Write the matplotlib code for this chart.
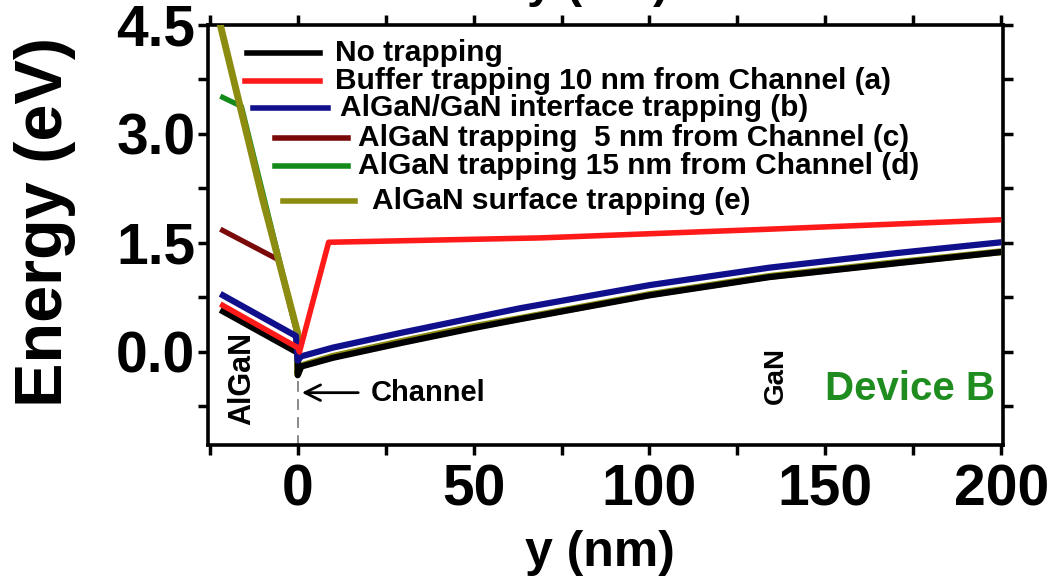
import numpy as np
import matplotlib
matplotlib.use('Agg')
from matplotlib import pyplot as plt
from matplotlib.lines import Line2D
from matplotlib.ticker import MultipleLocator, FormatStrFormatter

plt.rcParams['font.family'] = ['Liberation Sans', 'DejaVu Sans']
plt.rcParams['font.weight'] = 'bold'
plt.rcParams['axes.labelweight'] = 'bold'

# band edge data (y in nm, energy in eV)
x_none = [-22, 0, 0, 1, 10, 30, 50, 63, 100, 134, 170, 200]
e_none = [0.58, -0.01, -0.32, -0.20, -0.08, 0.13, 0.33, 0.45, 0.78, 1.03, 1.22, 1.375]

x_buffer = [-22, 0, 0.5, 8.8, 69, 134, 200]
e_buffer = [0.66, 0.06, 0.0, 1.51, 1.57, 1.69, 1.82]

x_iface = [-22, -0.5, 0, 1, 10, 30, 50, 63, 100, 134, 170, 200]
e_iface = [0.80, 0.22, -0.12, -0.06, 0.06, 0.27, 0.47, 0.60, 0.92, 1.16, 1.36, 1.51]

x_5nm = [-22, -5.5, 0, 0, 1, 10, 30, 50, 63, 100, 134, 170, 200]
e_5nm = [1.69, 1.27, 0.22, -0.30, -0.19, -0.06, 0.15, 0.35, 0.46, 0.79, 1.04, 1.23, 1.38]

x_15nm = [-22, -16, 0, 0, 1, 10, 30, 50, 63, 100, 134, 170, 200]
e_15nm = [3.52, 3.38, 0.24, -0.30, -0.19, -0.06, 0.15, 0.35, 0.46, 0.79, 1.04, 1.23, 1.38]

x_surf = [-22.5, -10, 0, 0, 1, 10, 30, 50, 63, 100, 134, 170, 200]
e_surf = [4.6, 2.11, 0.26, -0.30, -0.19, -0.06, 0.15, 0.35, 0.46, 0.79, 1.04, 1.23, 1.38]

labels = ['No trapping',
          'Buffer trapping 10 nm from Channel (a)',
          'AlGaN/GaN interface trapping (b)',
          'AlGaN trapping  5 nm from Channel (c)',
          'AlGaN trapping 15 nm from Channel (d)',
          'AlGaN surface trapping (e)']
colors = ['black', '#ff1a1a', '#10108c', '#7a0a0a', '#138a1a', '#8c8c10']

fig = plt.figure(figsize=(10.51, 5.76), dpi=100)
ax = fig.add_axes([208/1051, 1 - 445/576, 795/1051, 420/576])

ax.plot(x_5nm, e_5nm, color=colors[3], lw=3.8, zorder=2, solid_capstyle='butt')
ax.plot(x_15nm, e_15nm, color=colors[4], lw=3.8, zorder=2, solid_capstyle='butt')
ax.plot(x_surf, e_surf, color=colors[5], lw=5.0, zorder=3, solid_capstyle='butt')
ax.plot(x_none, e_none, color=colors[0], lw=4.5, zorder=4, solid_capstyle='butt')
ax.plot(x_iface, e_iface, color=colors[2], lw=4.5, zorder=5, solid_capstyle='butt')
ax.plot(x_buffer, e_buffer, color=colors[1], lw=4.0, zorder=6, solid_capstyle='butt')

# legend drawn by hand, rows in the original are staggered
leg_rows = [(247, 320, 335, 53), (245, 320, 335, 81), (253, 328, 340, 108),
            (275, 348, 358, 138), (275, 348, 358, 166), (283, 355, 372, 201)]
for (x0, x1, xt, yp), lab, c in zip(leg_rows, labels, colors):
    fy = 1 - (yp - 25) / 420
    ax.add_line(Line2D([(x0 - 208) / 795, (x1 - 208) / 795], [fy, fy],
                       transform=ax.transAxes, color=c, lw=4, zorder=7))
    ax.text((xt - 208) / 795, fy, lab, transform=ax.transAxes, fontsize=21.5,
            va='center', ha='left', zorder=7)

# channel marker
ax.plot([0, 0], [-1.3, -0.36], color='gray', lw=1.3, dashes=(6, 4), zorder=1)
ax.annotate('', xy=(0.4, -0.56), xytext=(18, -0.56),
            arrowprops=dict(arrowstyle='->', lw=2, color='black', mutation_scale=28))
ax.text(20.7, -0.56, 'Channel', fontsize=21, va='center', ha='left')
ax.text(-15.9, -0.36, 'AlGaN', fontsize=22, rotation=90, va='center', ha='center')
ax.text(135.8, -0.32, 'GaN', fontsize=20, rotation=90, va='center', ha='center')
ax.text(198.3, -0.66, 'Device B', fontsize=29, color='#1e8c1e', ha='right', va='baseline')

ax.set_xlim(-25.5, 200.5)
ax.set_ylim(-1.28, 4.5)
ax.xaxis.set_major_locator(MultipleLocator(50))
ax.xaxis.set_minor_locator(MultipleLocator(25))
ax.yaxis.set_major_locator(MultipleLocator(1.5))
ax.yaxis.set_minor_locator(MultipleLocator(0.75))
ax.yaxis.set_major_formatter(FormatStrFormatter('%.1f'))
ax.tick_params(which='both', direction='out', top=True, right=True,
               width=2.5, length=7, labelsize=41)
ax.tick_params(axis='y', pad=2)
ax.tick_params(axis='x', pad=6)
for s in ax.spines.values():
    s.set_linewidth(2.6)

ax.set_xlabel('y (nm)', fontsize=36, va='center')
ax.xaxis.set_label_coords(0.493, -0.257)
ax.set_ylabel('Energy (eV)', fontsize=48, va='center')
ax.yaxis.set_label_coords(-0.205, 0.53)

# bottom of the label from the panel above, cut by the frame
fig.text(598/1051, 1.006, 'y (nm)', fontsize=34, ha='center', va='baseline')

fig.savefig('out.png', dpi=100)
